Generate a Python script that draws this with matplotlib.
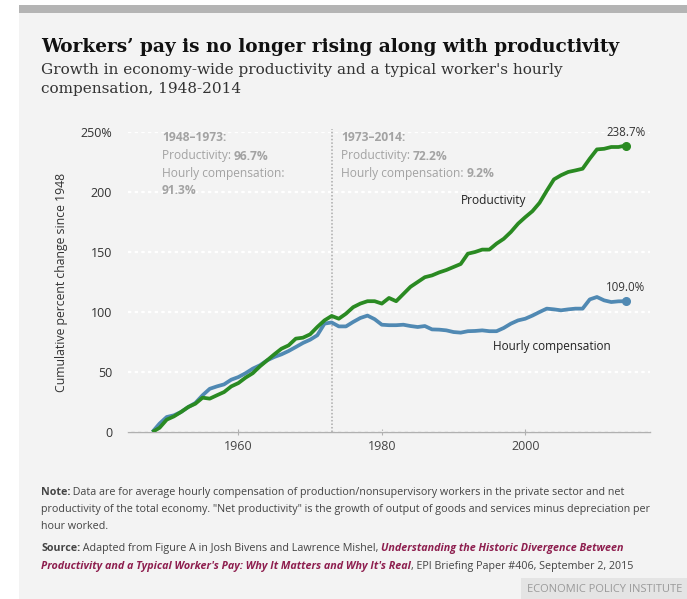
import matplotlib
matplotlib.use('Agg')
import matplotlib.pyplot as plt
from matplotlib import font_manager
from matplotlib.patches import Rectangle

# ---------------- data ----------------
years = list(range(1948, 2015))
productivity = [0, 3.5, 10.3, 13.0, 16.7, 20.8, 23.6, 28.6, 27.8, 30.6,
                33.3, 38.0, 40.8, 45.3, 49.0, 54.7, 59.7, 64.7, 69.4, 72.2,
                77.8, 78.6, 81.4, 87.5, 93.0, 96.7, 94.4, 98.6, 104.0, 107.0,
                109.0, 109.0, 107.0, 111.7, 109.0, 115.0, 121.0, 125.0, 129.0, 130.5,
                133.0, 135.0, 137.5, 140.0, 148.6, 150.0, 152.0, 152.0, 157.0, 161.0,
                166.7, 173.6, 179.0, 184.0, 191.0, 201.0, 210.5, 214.0, 216.7, 218.0,
                219.4, 227.8, 235.5, 236.0, 237.5, 237.5, 238.7]
compensation = [0, 7.0, 12.5, 13.9, 16.7, 20.8, 24.2, 30.6, 36.0, 38.0,
                39.7, 43.6, 45.8, 49.0, 52.8, 55.6, 59.7, 62.5, 64.7, 67.5,
                70.8, 74.2, 76.9, 80.6, 90.3, 91.3, 88.0, 88.0, 91.7, 95.0,
                97.0, 94.0, 89.4, 89.0, 89.0, 89.4, 88.3, 87.5, 88.3, 85.5,
                85.3, 84.7, 83.3, 82.8, 84.0, 84.2, 84.7, 84.0, 84.0, 86.7,
                90.3, 93.0, 94.4, 97.0, 100.0, 102.8, 102.2, 101.4, 102.2, 102.8,
                102.8, 110.5, 112.5, 109.7, 108.3, 108.9, 109.0]
y_ticks = [0, 50, 100, 150, 200, 250]
y_tick_labels = ['0', '50', '100', '150', '200', '250%']
x_ticks = [1960, 1980, 2000]
x_tick_labels = ['1960', '1980', '2000']
split_year = 1973

title = "Workers\u2019 pay is no longer rising along with productivity"
subtitle1 = "Growth in economy-wide productivity and a typical worker's hourly"
subtitle2 = "compensation, 1948-2014"

# ---------------- fonts ----------------
names = {f.name for f in font_manager.fontManager.ttflist}
SANS = 'Open Sans' if 'Open Sans' in names else 'DejaVu Sans'
NARROW = 'Liberation Sans Narrow' if 'Liberation Sans Narrow' in names else SANS
SERIF = 'DejaVu Serif'

W, H = 687, 599
fig = plt.figure(figsize=(W / 100, H / 100), dpi=100)
fig.patch.set_facecolor('white')
R = fig.canvas.get_renderer()


def fx(x):
    return x / W


def fy(y):
    return 1 - y / H


# background panel and top band
fig.patches.append(Rectangle((fx(19), 0), 1 - fx(19), fy(12.5), transform=fig.transFigure,
                             fc='#f3f3f3', ec='none', zorder=-10))
fig.patches.append(Rectangle((fx(19), fy(12.5)), 1 - fx(19), 7.5 / H, transform=fig.transFigure,
                             fc='#b4b4b4', ec='none', zorder=-10))
fig.patches.append(Rectangle((fx(521), 0), 1 - fx(521), 21 / H, transform=fig.transFigure,
                             fc='#e4e4e4', ec='none', zorder=-9))


def fit(t, target):
    w = t.get_window_extent(R).width
    t.set_fontsize(t.get_fontsize() * target / w)
    return t


def runs(x, y, parts, size, family):
    """parts: list of (text, weight, style, color). x,y in px (baseline)."""
    cx = x
    for txt, weight, style, color in parts:
        t = fig.text(fx(cx), fy(y), txt, fontsize=size, family=family, fontweight=weight,
                     fontstyle=style, color=color, va='baseline', ha='left')
        cx += t.get_window_extent(R).width
    return cx


def run_width(parts, size, family):
    tot = 0
    for txt, weight, style, color in parts:
        t = fig.text(0, 0, txt, fontsize=size, family=family, fontweight=weight, fontstyle=style)
        tot += t.get_window_extent(R).width
        t.remove()
    return tot


# title / subtitle
t = fig.text(fx(41), fy(52.5), title, family=SERIF, fontweight='bold', fontsize=15,
             color='#111111', va='baseline')
fit(t, 581)
s1 = fig.text(fx(41), fy(74), subtitle1, family=SERIF, fontsize=11, color='#333333', va='baseline')
fit(s1, 519)
fig.text(fx(41), fy(93.5), subtitle2, family=SERIF, fontsize=s1.get_fontsize(), color='#333333',
         va='baseline')

# ---------------- axes ----------------
ax = fig.add_axes([fx(128), fy(432), (650 - 128) / W, 300 / H])
ax.set_facecolor('none')
ax.set_xlim(1944.6, 2017.4)
ax.set_ylim(0, 250)
for side in ['top', 'right', 'left']:
    ax.spines[side].set_visible(False)
ax.spines['bottom'].set_color('#b0b0b0')
ax.spines['bottom'].set_linewidth(1)
ax.set_yticks(y_ticks)
ax.set_yticklabels(y_tick_labels)
ax.set_xticks(x_ticks)
ax.set_xticklabels(x_tick_labels)
ax.tick_params(axis='y', length=0, pad=11.5, labelsize=9, labelcolor='#333333')
ax.tick_params(axis='x', length=4, direction='inout', color='#b0b0b0', pad=3.5,
               labelsize=9, labelcolor='#444444')
for lab in ax.get_xticklabels() + ax.get_yticklabels():
    lab.set_family(SANS)
ax.yaxis.grid(True, color='white', linestyle=(0, (1.5, 1.5)), linewidth=1.6)
ax.set_axisbelow(True)
ax.set_ylabel('Cumulative percent change since 1948', family=SANS, fontsize=8.8,
              color='#333333', labelpad=10)
ax.yaxis.set_label_coords(-(128 - 67.5) / (650 - 128), (432 - 282) / 300)

ax.axvline(split_year, ymin=0, ymax=1.01, color='#aaaaaa', linestyle=(0, (1, 1.3)),
           linewidth=1.1, clip_on=False, zorder=1)

GREEN = '#2a8a22'
BLUE = '#5089b3'
ax.plot(years, productivity, color=GREEN, linewidth=2.7, solid_capstyle='butt', zorder=3)
ax.plot(years, compensation, color=BLUE, linewidth=2.7, solid_capstyle='butt', zorder=2)
ax.plot([years[-1]], [productivity[-1]], 'o', color=GREEN, markersize=5.5, zorder=4)
ax.plot([years[-1]], [compensation[-1]], 'o', color=BLUE, markersize=5.5, zorder=4)

ax.annotate(f'{productivity[-1]:.1f}%', xy=(years[-1], productivity[-1]), xytext=(0, 5),
            textcoords='offset points', ha='center', va='bottom', family=SANS,
            fontsize=8.3, color='#333333')
ax.annotate(f'{compensation[-1]:.1f}%', xy=(years[-1], compensation[-1]), xytext=(0, 5),
            textcoords='offset points', ha='center', va='bottom', family=SANS,
            fontsize=8.3, color='#333333')

lp = fig.text(fx(460.5), fy(200.5), 'Productivity', family=SANS, fontsize=9, color='#222222',
              va='center', ha='left')
fit(lp, 66)
lc = fig.text(fx(493.5), fy(346.5), 'Hourly compensation', family=SANS, fontsize=9,
              color='#222222', va='center', ha='left')
fit(lc, 119)

# period annotations
GRAY = '#a3a3a3'
ref = [('Productivity: ', 'normal', 'normal', GRAY), ('96.7%', 'bold', 'normal', GRAY)]
psize = 8.0 * 108 / run_width(ref, 8.0, SANS)
yb = [141.5, 159.5, 177, 194.5]
runs(162, yb[0], [('1948\u20131973:', 'bold', 'normal', GRAY)], psize, SANS)
runs(162, yb[1], ref, psize, SANS)
runs(162, yb[2], [('Hourly compensation:', 'normal', 'normal', GRAY)], psize, SANS)
runs(162, yb[3], [('91.3%', 'bold', 'normal', GRAY)], psize, SANS)
runs(341, yb[0], [('1973\u20132014:', 'bold', 'normal', GRAY)], psize, SANS)
runs(341, yb[1], [('Productivity: ', 'normal', 'normal', GRAY), ('72.2%', 'bold', 'normal', GRAY)],
     psize, SANS)
runs(341, yb[2], [('Hourly compensation: ', 'normal', 'normal', GRAY), ('9.2%', 'bold', 'normal', GRAY)],
     psize, SANS)

# ---------------- notes ----------------
TXT = '#444444'
MAG = '#8e1f4f'
note1 = [('Note:', 'bold', 'normal', TXT),
         (' Data are for average hourly compensation of production/nonsupervisory workers in the private sector and net',
          'normal', 'normal', TXT)]
nsize = 8.0 * 591 / run_width(note1, 8.0, NARROW)
runs(41, 495, note1, nsize, NARROW)
runs(41, 512, [('productivity of the total economy. "Net productivity" is the growth of output of goods and services minus depreciation per',
                'normal', 'normal', TXT)], nsize, NARROW)
runs(41, 529, [('hour worked.', 'normal', 'normal', TXT)], nsize, NARROW)
runs(41, 551, [('Source:', 'bold', 'normal', TXT),
               (' Adapted from Figure A in Josh Bivens and Lawrence Mishel, ', 'normal', 'normal', TXT),
               ('Understanding the Historic Divergence Between', 'bold', 'italic', MAG)], nsize, NARROW)
runs(41, 568.5, [("Productivity and a Typical Worker's Pay: Why It Matters and Why It's Real", 'bold', 'italic', MAG),
                 (', EPI Briefing Paper #406, September 2, 2015', 'normal', 'normal', TXT)], nsize, NARROW)

logo = fig.text(fx(605), fy(589), 'ECONOMIC POLICY INSTITUTE', family=NARROW, fontsize=7.5,
                color='#9a9a9a', ha='center', va='center')
fit(logo, 154)

fig.savefig('out.png', dpi=100, facecolor=fig.get_facecolor())
